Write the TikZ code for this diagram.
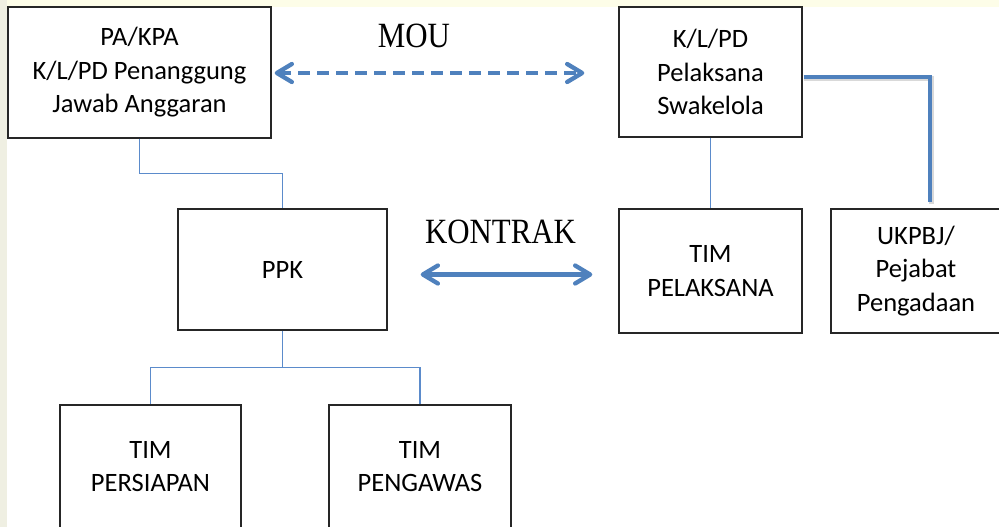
\documentclass[tikz,border=0pt]{standalone}
\usepackage{fontspec}
\usepackage{graphicx}
\setmainfont{Carlito}
\newfontfamily\serifttl{Liberation Serif}
\usetikzlibrary{arrows.meta}
\definecolor{bgtop}{HTML}{FDFDE8}
\definecolor{bgleft}{HTML}{EFEFE2}
\definecolor{lineblue}{HTML}{4F81BD}
\definecolor{thinblue}{HTML}{5B8BCB}
\tikzset{
  box/.style={draw=black!85, line width=1.4pt, fill=white, inner sep=0pt, align=center,
    font=\fontsize{26.5}{33.5}\selectfont},
  thinlink/.style={draw=thinblue, line width=1.5pt},
  thicklink/.style={draw=lineblue, line width=4.3pt},
  bigarrow/.style={draw=lineblue, line width=4.3pt,
    {Straight Barb[length=15pt,width=18pt,round]}-{Straight Barb[length=15pt,width=18pt,round]}},
  ttl/.style={font=\fontsize{35.5}{40}\serifttl, inner sep=0pt, anchor=base}
}
\begin{document}
\begin{tikzpicture}[x=1pt,y=-1pt]
\useasboundingbox (0,0) rectangle (999,527);
\clip (0,0) rectangle (999,527);
\fill[white] (0,0) rectangle (999,527);
\fill[bgtop] (0,0) rectangle (999,7);
\fill[bgleft] (0,0) rectangle (7,527);

\node[box, minimum width=263pt, minimum height=131pt] (pa) at (139.5,72.5) {PA/KPA\\K/L/PD Penanggung\\Jawab Anggaran};
\node[box, minimum width=183pt, minimum height=130pt] (kl) at (710.5,72) {K/L/PD\\Pelaksana\\Swakelola};
\node[box, minimum width=209pt, minimum height=121pt] (ppk) at (282.5,269.5) {PPK};
\node[box, minimum width=183pt, minimum height=124pt] (timpel) at (710.5,271) {TIM\\PELAKSANA};
\node[box, minimum width=170pt, minimum height=124pt] (ukpbj) at (916,271) {UKPBJ/\\Pejabat\\Pengadaan};
\node[box, minimum width=181pt, minimum height=123pt] (timpers) at (150.5,466.5) {TIM\\PERSIAPAN};
\node[box, minimum width=182pt, minimum height=123pt] (timpeng) at (420,466.5) {TIM\\PENGAWAS};

\node[ttl] (mou) at (414,48) {\scalebox{0.87}[1]{MOU}};
\node[ttl] (kontrak) at (500.5,243) {\scalebox{0.87}[1]{KONTRAK}};

% connectors
\draw[thinlink] (pa.south) -- ++(0,35) -| (ppk.north);
\draw[thinlink] (ppk.south) -- ++(0,37) coordinate (jn);
\draw[thinlink] (jn) -| (timpers.north);
\draw[thinlink] (jn) -| (timpeng.north);
\draw[thinlink] (kl.south) -- (timpel.north);

\draw[draw=black, opacity=0.15, line width=5pt] ([xshift=1.5pt,yshift=-7pt]kl.east) -| ([xshift=15.5pt,yshift=4pt]ukpbj.north);
\draw[thicklink] ([xshift=1pt,yshift=-5pt]kl.east) -| ([xshift=14pt,yshift=6pt]ukpbj.north);

\draw[bigarrow, dash pattern=on 12pt off 7pt] ([xshift=3pt,yshift=-0.5pt]pa.east) -- ([xshift=-34pt,yshift=-1pt]kl.west);
\draw[bigarrow] ([xshift=33pt,yshift=-5pt]ppk.east) -- ([xshift=-26pt,yshift=-3.5pt]timpel.west);
\end{tikzpicture}
\end{document}
